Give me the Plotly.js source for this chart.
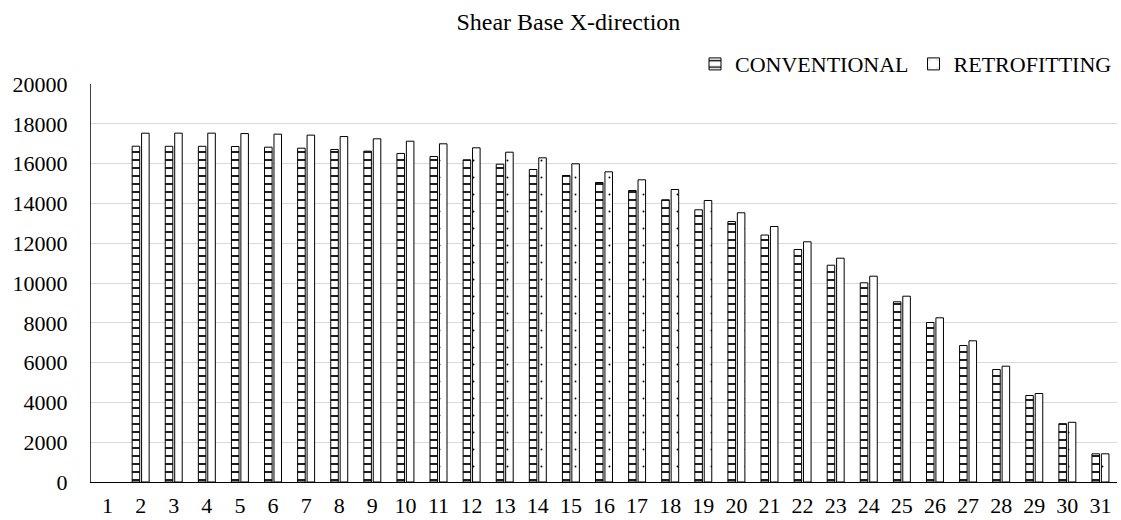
<!DOCTYPE html>
<html>
<head>
<meta charset="utf-8">
<script src="https://cdn.plot.ly/plotly-3.0.1.min.js"></script>
<style>html,body{margin:0;padding:0;background:#fff;}#chart{width:1121px;height:520px;}</style>
</head>
<body>
<div id="chart"></div>
<script>
const categories = ['1','2','3','4','5','6','7','8','9','10','11','12','13','14','15','16','17','18','19','20','21','22','23','24','25','26','27','28','29','30','31'];
const conventional = [null, 16874, 16870, 16870, 16860, 16825, 16775, 16710, 16625, 16510, 16357, 16190, 15970, 15704, 15402, 15050, 14648, 14181, 13678, 13090, 12410, 11683, 10894, 10010, 9055, 8015, 6859, 5653, 4347, 2930, 1417];
const retrofitting = [null, 17528, 17530, 17530, 17510, 17480, 17430, 17360, 17245, 17125, 16995, 16794, 16573, 16291, 15990, 15588, 15186, 14698, 14146, 13528, 12839, 12070, 11246, 10342, 9337, 8251, 7095, 5819, 4447, 3000, 1417];
const yTicks = [0, 2000, 4000, 6000, 8000, 10000, 12000, 14000, 16000, 18000, 20000];

const FONT = 'Liberation Serif';

const traces = [
  {
    type: 'bar', name: 'CONVENTIONAL', x: categories, y: conventional,
    marker: {
      color: '#ffffff',
      line: {color: '#000000', width: 1},
      pattern: {shape: '-', size: 8, solidity: 0.22, fgcolor: '#000000', bgcolor: '#ffffff'}
    },
    hoverinfo: 'x+y'
  },
  {
    type: 'bar', name: 'RETROFITTING', x: categories, y: retrofitting,
    marker: {
      color: '#ffffff',
      line: {color: '#000000', width: 1},
      pattern: {shape: '.', size: 17, solidity: 0.01, fgcolor: '#000000', bgcolor: '#ffffff'}
    },
    hoverinfo: 'x+y'
  }
];

const layout = {
  width: 1121, height: 520,
  paper_bgcolor: '#ffffff', plot_bgcolor: '#ffffff',
  font: {family: FONT, size: 22, color: '#000000'},
  margin: {l: 91, r: 4, t: 84, b: 38, pad: 0},
  title: {text: 'Shear Base X-direction', font: {family: FONT, size: 24, color: '#000000'},
          xref: 'container', x: 0.507, xanchor: 'center', yref: 'container', y: 0.958, yanchor: 'middle'},
  barmode: 'group', bargap: 0.43, bargroupgap: 0.2,
  showlegend: true,
  legend: {orientation: 'h', xref: 'paper', x: 1, xanchor: 'right', y: 1.05, yanchor: 'middle',
           font: {family: FONT, size: 22, color: '#000000'}, bgcolor: 'rgba(0,0,0,0)', traceorder: 'normal',
           itemwidth: 30},
  xaxis: {type: 'category', categoryorder: 'array', categoryarray: categories,
          showline: true, linecolor: '#000000', linewidth: 1, showgrid: false, zeroline: false,
          ticks: 'outside', ticklen: 4, tickcolor: 'rgba(0,0,0,0)', automargin: false,
          tickfont: {family: FONT, size: 22, color: '#000000'}},
  yaxis: {range: [0, 20000], tickvals: yTicks, ticktext: yTicks.map(String),
          showline: true, linecolor: '#404040', linewidth: 1,
          showgrid: true, gridcolor: '#d9d9d9', gridwidth: 1, zeroline: false,
          ticks: 'outside', ticklen: 18, tickcolor: 'rgba(0,0,0,0)', automargin: false,
          tickfont: {family: FONT, size: 22, color: '#000000'}}
};

Plotly.newPlot('chart', traces, layout, {displayModeBar: false, staticPlot: true});
</script>
</body>
</html>
